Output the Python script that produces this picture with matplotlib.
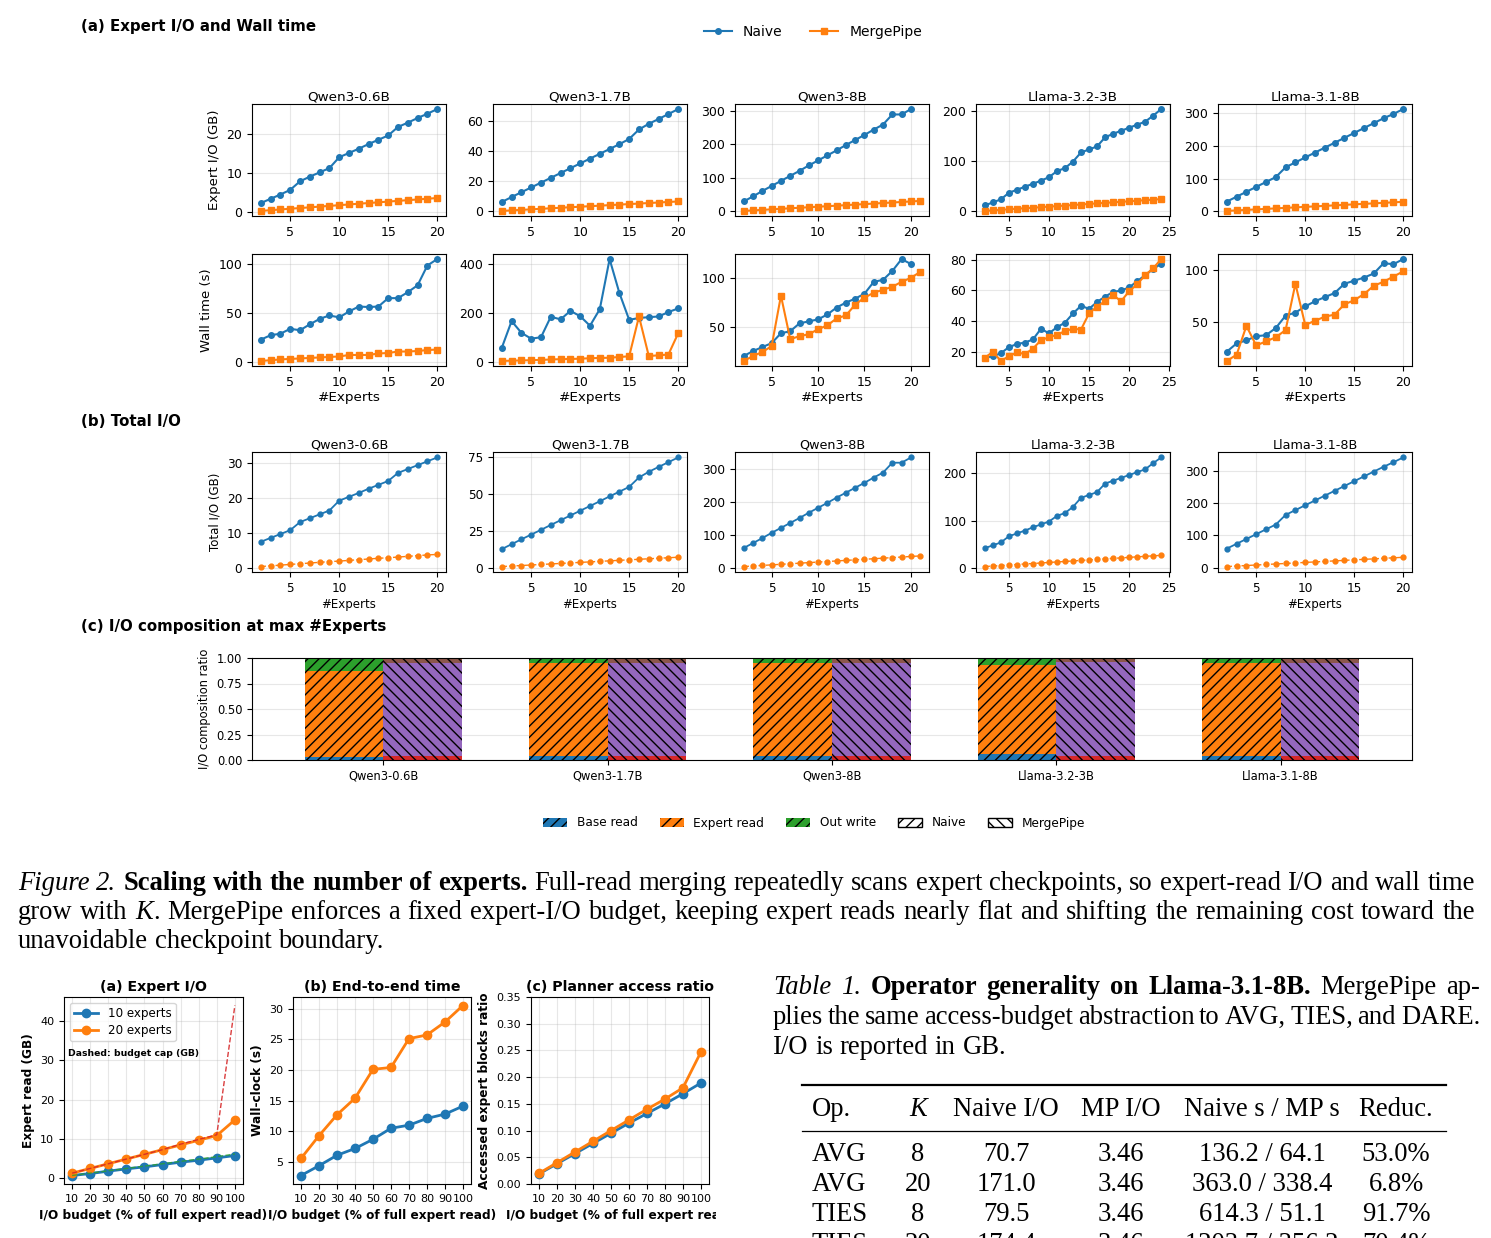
import matplotlib
matplotlib.use('Agg')
import matplotlib.pyplot as plt
import numpy as np
from matplotlib.patches import Patch, Rectangle
from matplotlib.lines import Line2D

plt.rcParams['font.family'] = 'DejaVu Sans'

# ---- data: scaling with number of experts ----
models = ['Qwen3-0.6B', 'Qwen3-1.7B', 'Qwen3-8B', 'Llama-3.2-3B', 'Llama-3.1-8B']
k_20 = list(range(2, 21))
k_21 = list(range(2, 22))
k_24 = list(range(2, 25))

# expert I/O (GB)
qwen06_naive_io = [2.2, 3.3, 4.4, 5.6, 7.8, 9.0, 10.1, 11.2, 14.0, 15.1, 16.2, 17.4, 18.5, 19.6, 21.8, 22.9, 24.1, 25.2, 26.4]
qwen06_mp_io = [0.18, 0.37, 0.55, 0.74, 0.92, 1.1, 1.29, 1.47, 1.66, 1.84, 2.03, 2.21, 2.39, 2.58, 2.76, 2.95, 3.13, 3.31, 3.5]
qwen17_naive_io = [6.3, 9.6, 12.8, 16.0, 19.2, 22.4, 25.6, 28.8, 32.0, 35.2, 38.4, 41.6, 44.8, 48.3, 54.6, 58.4, 61.6, 64.9, 68.2]
qwen17_mp_io = [0.35, 0.7, 1.05, 1.4, 1.75, 2.1, 2.45, 2.8, 3.15, 3.5, 3.85, 4.2, 4.55, 4.9, 5.25, 5.6, 5.95, 6.3, 6.65]
qwen8_naive_io = [30, 45, 61, 76, 91, 106, 121, 137, 152, 167, 182, 198, 213, 228, 244, 259, 289, 289, 305]
qwen8_mp_io = [1.6, 3.1, 4.7, 6.3, 7.8, 9.4, 11.0, 12.5, 14.1, 15.7, 17.2, 18.8, 20.4, 21.9, 23.5, 25.1, 26.6, 28.2, 29.8, 31.3]
llama3b_naive_io = [12, 18, 24, 37, 43, 49, 55, 61, 68, 80, 86, 99, 117, 123, 129, 147, 154, 160, 166, 172, 178, 190, 203]
llama3b_mp_io = [1.1, 2.1, 3.2, 4.3, 5.3, 6.4, 7.4, 8.5, 9.6, 10.6, 11.7, 12.8, 13.8, 14.9, 16.0, 17.0, 18.1, 19.1, 20.2, 21.3, 22.3, 23.4, 24.5]
llama8b_naive_io = [30, 45, 60, 75, 90, 105, 135, 150, 165, 180, 195, 210, 225, 240, 255, 270, 285, 298, 313]
llama8b_mp_io = [1.5, 3.1, 4.6, 6.2, 7.7, 9.2, 10.8, 12.3, 13.9, 15.4, 16.9, 18.5, 20.0, 21.6, 23.1, 24.6, 26.2, 27.7, 29.3]

# wall time (s)
qwen06_naive_t = [23, 27.5, 29, 34, 32.5, 38.5, 44, 47.5, 45.5, 51.5, 56.5, 56, 56.5, 65, 65, 71, 78, 98, 104.5]
qwen06_mp_t = [1.5, 2.2, 3.0, 3.5, 4.0, 4.5, 5.0, 5.5, 6.0, 7.5, 7.5, 7.5, 9.0, 9.5, 11.0, 11.0, 11.5, 12.5, 13.0]
qwen17_naive_t = [58, 167, 119, 95, 101, 185, 174, 209, 187, 148, 216, 421, 282, 172, 180, 183, 186, 204, 219]
qwen17_mp_t = [4, 5, 6, 7, 8, 10, 11, 12, 13, 15, 16, 17, 20, 23, 186, 24, 27, 30, 117]
qwen8_naive_t = [21, 26, 30, 34, 44, 46, 54, 56, 58, 63, 70, 75, 79, 84, 96, 98, 107, 119, 114]
qwen8_mp_t = [16, 21, 25, 31, 82, 38, 41, 43, 48, 52, 59, 62, 73, 80, 85, 88, 91, 96, 100, 106]
llama3b_naive_t = [16, 17, 19, 23, 25, 26, 28, 35, 32, 36, 39, 45, 50, 48, 52.5, 56, 59, 60, 62, 66, 70, 74, 77.5]
llama3b_mp_t = [16, 20, 14, 17, 19.5, 18.5, 22, 27.5, 29.5, 31, 33.5, 35, 34.5, 45, 49.5, 53, 57, 53, 59.5, 64, 70, 74.5, 80.5]
llama8b_naive_t = [21, 29, 32, 36, 37, 44, 56, 59, 65, 70, 74, 78, 87, 90, 93, 97, 107, 106, 111]
llama8b_mp_t = [12, 18, 46, 27, 31, 35, 42, 87, 47, 51, 55, 57, 67, 71, 77, 85, 89, 94, 99]

# total I/O (GB)
qwen06_naive_tot = [7.6, 8.7, 9.8, 10.9, 13.2, 14.3, 15.4, 16.5, 19.3, 20.4, 21.5, 22.7, 23.8, 24.9, 27.2, 28.3, 29.4, 30.5, 31.6]
qwen06_mp_tot = [0.55, 0.75, 0.95, 1.15, 1.35, 1.55, 1.75, 1.95, 2.1, 2.3, 2.5, 2.7, 2.9, 3.05, 3.25, 3.45, 3.65, 3.85, 4.0]
qwen17_naive_tot = [12.6, 15.9, 19.2, 22.4, 25.6, 28.9, 32.1, 35.3, 38.5, 41.7, 44.9, 48.2, 51.4, 54.6, 61.0, 64.8, 68.1, 71.3, 74.5]
qwen17_mp_tot = [0.8, 1.15, 1.5, 1.85, 2.2, 2.55, 2.9, 3.25, 3.6, 3.95, 4.3, 4.65, 5.0, 5.35, 5.7, 6.05, 6.4, 6.75, 7.1]
qwen8_naive_tot = [60, 75, 90, 106, 121, 136, 151, 167, 182, 197, 213, 228, 243, 258, 274, 289, 319, 319, 335]
qwen8_mp_tot = [3.5, 5.2, 6.9, 8.6, 10.3, 12.0, 13.7, 15.4, 17.1, 18.8, 20.5, 22.2, 23.9, 25.6, 27.3, 29.0, 30.7, 32.4, 34.1, 35.8]
llama3b_naive_tot = [42, 48, 54, 67, 73, 79, 86, 92, 98, 110, 116, 129, 148, 154, 160, 178, 184, 190, 196, 202, 208, 221, 233]
llama3b_mp_tot = [3.3, 4.4, 5.4, 6.5, 7.6, 8.7, 9.7, 10.8, 11.9, 12.9, 14.0, 15.1, 16.2, 17.2, 18.3, 19.4, 20.5, 21.5, 22.6, 23.7, 24.8, 25.8, 26.9]
llama8b_naive_tot = [59, 74, 89, 104, 119, 134, 164, 179, 194, 209, 224, 239, 254, 269, 284, 299, 314, 328, 343]
llama8b_mp_tot = [3.1, 4.7, 6.3, 7.9, 9.5, 11.1, 12.7, 14.3, 15.9, 17.5, 19.1, 20.7, 22.3, 23.9, 25.5, 27.1, 28.7, 30.3, 31.9]

# I/O composition at max #experts (ratios)
naive_base = [0.03, 0.035, 0.035, 0.055, 0.035]
naive_expert = [0.84, 0.915, 0.915, 0.875, 0.915]
naive_out = [0.13, 0.05, 0.05, 0.07, 0.05]
mp_base = [0.035, 0.035, 0.035, 0.035, 0.035]
mp_expert = [0.915, 0.915, 0.915, 0.925, 0.915]
mp_out = [0.05, 0.05, 0.05, 0.04, 0.05]

# ---- data: I/O budget sweep ----
budget = [10, 20, 30, 40, 50, 60, 70, 80, 90, 100]
read_10 = [0.6, 1.1, 1.7, 2.3, 2.8, 3.4, 4.0, 4.5, 5.1, 5.7]
read_20 = [1.2, 2.4, 3.6, 4.8, 6.0, 7.2, 8.4, 9.6, 10.8, 14.8]
cap_10 = [0.6, 1.2, 1.8, 2.4, 3.0, 3.6, 4.2, 4.8, 5.4, 6.1]
cap_20 = [1.2, 2.4, 3.6, 4.8, 6.0, 7.2, 8.6, 9.8, 11.0, 44.0]
time_10 = [2.8, 4.4, 6.1, 7.2, 8.7, 10.5, 11.0, 12.1, 12.8, 14.1]
time_20 = [5.6, 9.3, 12.7, 15.4, 20.1, 20.4, 25.1, 25.7, 27.8, 30.5]
ratio_10 = [0.019, 0.038, 0.057, 0.076, 0.095, 0.114, 0.132, 0.150, 0.169, 0.189]
ratio_20 = [0.020, 0.040, 0.060, 0.080, 0.100, 0.120, 0.140, 0.159, 0.180, 0.247]

# ---- table ----
tab_header = ['Op.', 'K', 'Naive I/O', 'MP I/O', 'Naive s / MP s', 'Reduc.']
tab_rows = [
    ['AVG', '8', '70.7', '3.46', '136.2 / 64.1', '53.0%'],
    ['AVG', '20', '171.0', '3.46', '363.0 / 338.4', '6.8%'],
    ['TIES', '8', '79.5', '3.46', '614.3 / 51.1', '91.7%'],
    ['TIES', '20', '174.4', '3.46', '1203.7 / 356.2', '70.4%'],
]

k_naive = [k_20, k_20, k_20, k_24, k_20]
k_mp = [k_20, k_20, k_21, k_24, k_20]
naive_io = [qwen06_naive_io, qwen17_naive_io, qwen8_naive_io, llama3b_naive_io, llama8b_naive_io]
mp_io = [qwen06_mp_io, qwen17_mp_io, qwen8_mp_io, llama3b_mp_io, llama8b_mp_io]
naive_t = [qwen06_naive_t, qwen17_naive_t, qwen8_naive_t, llama3b_naive_t, llama8b_naive_t]
mp_t = [qwen06_mp_t, qwen17_mp_t, qwen8_mp_t, llama3b_mp_t, llama8b_mp_t]
naive_tot = [qwen06_naive_tot, qwen17_naive_tot, qwen8_naive_tot, llama3b_naive_tot, llama8b_naive_tot]
mp_tot = [qwen06_mp_tot, qwen17_mp_tot, qwen8_mp_tot, llama3b_mp_tot, llama8b_mp_tot]

W, H = 1491, 1238
fig = plt.figure(figsize=(W / 100, H / 100), dpi=100)


def fx(x):
    return x / W


def fy(y):
    return 1 - y / H


def add_ax(l, t, r, b):
    return fig.add_axes([l / W, 1 - b / H, (r - l) / W, (b - t) / H])


col_left = [252, 493, 735, 976, 1218]
col_w = 194

# (a) expert I/O and wall time
for i, name in enumerate(models):
    l = col_left[i]
    ax = add_ax(l, 104, l + col_w, 216)
    ax.plot(k_naive[i], naive_io[i], '-o', color='C0', ms=4, lw=1.5)
    ax.plot(k_mp[i], mp_io[i], '-s', color='C1', ms=4, lw=1.5)
    ax.set_title(name, fontsize=9.7, pad=2)
    ax.grid(True, alpha=0.3)
    ax.tick_params(labelsize=9)
    if i == 0:
        ax.set_ylabel('Expert I/O (GB)', fontsize=9.5)

    ax = add_ax(l, 254, l + col_w, 366)
    ax.plot(k_naive[i], naive_t[i], '-o', color='C0', ms=4, lw=1.5)
    ax.plot(k_mp[i], mp_t[i], '-s', color='C1', ms=4, lw=1.5)
    ax.grid(True, alpha=0.3)
    ax.tick_params(labelsize=9)
    ax.set_xlabel('#Experts', fontsize=9.7, labelpad=2)
    if i == 0:
        ax.set_ylabel('Wall time (s)', fontsize=9.5)

# (b) total I/O
for i, name in enumerate(models):
    l = col_left[i]
    ax = add_ax(l, 452, l + col_w, 572)
    ax.plot(k_naive[i], naive_tot[i], '-o', color='C0', ms=3.5, lw=1.3)
    ax.plot(k_mp[i], mp_tot[i], '--o', color='C1', ms=3.5, lw=1.0)
    ax.set_title(name, fontsize=9.2, pad=2)
    ax.grid(True, alpha=0.3)
    ax.tick_params(labelsize=8.7)
    ax.set_xlabel('#Experts', fontsize=8.5, labelpad=2)
    if i == 1:
        ax.set_yticks([0, 25, 50, 75])
    if i == 0:
        ax.set_ylabel('Total I/O (GB)', fontsize=8.5)

# (c) composition
ax = add_ax(252, 658, 1412, 760)
x = np.arange(len(models))
w = 0.35
nb = np.array(naive_base)
ne = np.array(naive_expert)
mb = np.array(mp_base)
me = np.array(mp_expert)
ax.bar(x - w / 2, naive_base, w, color='C0', hatch='///', edgecolor='black', lw=0)
ax.bar(x - w / 2, naive_expert, w, bottom=nb, color='C1', hatch='///', edgecolor='black', lw=0)
ax.bar(x - w / 2, naive_out, w, bottom=nb + ne, color='C2', hatch='///', edgecolor='black', lw=0)
ax.bar(x + w / 2, mp_base, w, color='C3', hatch='\\\\\\', edgecolor='black', lw=0)
ax.bar(x + w / 2, mp_expert, w, bottom=mb, color='C4', hatch='\\\\\\', edgecolor='black', lw=0)
ax.bar(x + w / 2, mp_out, w, bottom=mb + me, color='C5', hatch='\\\\\\', edgecolor='black', lw=0)
ax.set_ylim(0, 1)
ax.set_xticks(x)
ax.set_xticklabels(models)
ax.tick_params(labelsize=8.3)
ax.set_ylabel('I/O composition ratio', fontsize=8.3)
ax.grid(True, axis='y', alpha=0.3)
ax.set_axisbelow(True)

comp_handles = [
    Patch(facecolor='C0', hatch='///', edgecolor='black', lw=0, label='Base read'),
    Patch(facecolor='C1', hatch='///', edgecolor='black', lw=0, label='Expert read'),
    Patch(facecolor='C2', hatch='///', edgecolor='black', lw=0, label='Out write'),
    Patch(facecolor='white', hatch='///', edgecolor='black', label='Naive'),
    Patch(facecolor='white', hatch='\\\\\\', edgecolor='black', label='MergePipe'),
]
fig.legend(handles=comp_handles, loc='center', bbox_to_anchor=(fx(814), fy(823)),
           ncol=5, frameon=False, fontsize=8.7, handlelength=2.0, columnspacing=1.8)

top_handles = [
    Line2D([], [], color='C0', marker='o', ms=4, lw=1.5, label='Naive'),
    Line2D([], [], color='C1', marker='s', ms=4, lw=1.5, label='MergePipe'),
]
fig.legend(handles=top_handles, loc='center', bbox_to_anchor=(fx(813), fy(32)),
           ncol=2, frameon=False, fontsize=10, columnspacing=2.0)

fig.text(fx(81), fy(27), '(a) Expert I/O and Wall time', fontsize=10.8, fontweight='bold', va='center')
fig.text(fx(81), fy(422), '(b) Total I/O', fontsize=10.8, fontweight='bold', va='center')
fig.text(fx(81), fy(627), '(c) I/O composition at max #Experts', fontsize=10.8, fontweight='bold', va='center')

# ---- budget sweep panels ----
xlab = 'I/O budget (% of full expert read)'
ax = add_ax(64, 997, 243, 1184)
ax.plot(budget, read_10, '-o', color='C0', lw=2, ms=6, label='10 experts')
ax.plot(budget, read_20, '-o', color='C1', lw=2, ms=6, label='20 experts')
ax.plot(budget, cap_10, '--', color='C2', lw=1, alpha=0.8)
ax.plot(budget, cap_20, '--', color='tab:red', lw=1, alpha=0.9)
ax.set_title('(a) Expert I/O', fontsize=10.2, fontweight='bold', pad=4)
ax.set_ylabel('Expert read (GB)', fontsize=8.7, fontweight='bold')
ax.set_xlabel(xlab, fontsize=8.7, fontweight='bold')
ax.legend(loc='upper left', fontsize=8.6, handlelength=2, labelspacing=0.3, borderpad=0.35)
ax.text(0.02, 0.685, 'Dashed: budget cap (GB)', transform=ax.transAxes, fontsize=6.7, fontweight='bold')

ax2 = add_ax(293, 997, 471, 1184)
ax2.plot(budget, time_10, '-o', color='C0', lw=2, ms=6)
ax2.plot(budget, time_20, '-o', color='C1', lw=2, ms=6)
ax2.set_title('(b) End-to-end time', fontsize=10.2, fontweight='bold', pad=4)
ax2.set_ylabel('Wall-clock (s)', fontsize=8.7, fontweight='bold')
ax2.set_xlabel(xlab, fontsize=8.7, fontweight='bold')

ax3 = add_ax(531, 997, 709, 1184)
ax3.plot(budget, ratio_10, '-o', color='C0', lw=2, ms=6)
ax3.plot(budget, ratio_20, '-o', color='C1', lw=2, ms=6)
ax3.set_ylim(0, 0.35)
ax3.set_title('(c) Planner access ratio', fontsize=10.2, fontweight='bold', pad=4)
ax3.set_ylabel('Accessed expert blocks ratio', fontsize=8.7, fontweight='bold')
ax3.set_xlabel(xlab, fontsize=8.7, fontweight='bold')

for a in (ax, ax2, ax3):
    a.set_xticks(budget)
    a.tick_params(labelsize=8)
    a.grid(True, alpha=0.3)

# clip the sweep figure at its right edge
fig.add_artist(Rectangle((fx(716), 0), fx(770) - fx(716), fy(965), transform=fig.transFigure,
                         facecolor='white', edgecolor='none', zorder=10))

# ---- serif text: captions and table ----
renderer = fig.canvas.get_renderer()
SERIF = 'Liberation Serif'
FS = 19.2


def place_line(segs, x0, yb, x1=None, size=FS):
    toks = []
    for text, kw in segs:
        for j, p in enumerate(text.split(' ')):
            if p:
                toks.append((p, kw, j > 0))
    arts, widths = [], []
    for p, kw, sp in toks:
        t = fig.text(0, fy(yb), p, fontsize=size, family=SERIF, va='baseline', **kw)
        widths.append(t.get_window_extent(renderer).width)
        arts.append(t)
    nsp = sum(1 for tk in toks[1:] if tk[2])
    gap = size * 100 / 72 * 0.25
    if x1 is not None and nsp:
        gap = (x1 - x0 - sum(widths)) / nsp
    xx = x0
    for n, ((p, kw, sp), t, wd) in enumerate(zip(toks, arts, widths)):
        if sp and n > 0:
            xx += gap
        t.set_x(fx(xx))
        xx += wd


IT = {'style': 'italic'}
BF = {'weight': 'bold'}
RM = {}

place_line([('Figure 2.', IT), (' Scaling with the number of experts.', BF),
            (' Full-read merging repeatedly scans expert checkpoints, so expert-read I/O and wall time', RM)],
           18, 890, 1475)
place_line([('grow with', RM), (' K', IT),
            ('. MergePipe enforces a fixed expert-I/O budget, keeping expert reads nearly flat and shifting the remaining cost toward the', RM)],
           18, 919, 1475)
place_line([('unavoidable checkpoint boundary.', RM)], 18, 948)

place_line([('Table 1.', IT), (' Operator generality on Llama-3.1-8B.', BF), (' MergePipe ap-', RM)], 773, 994, 1480)
place_line([('plies the same access-budget abstraction to AVG, TIES, and DARE.', RM)], 773, 1024, 1480)
place_line([('I/O is reported in GB.', RM)], 773, 1054)

col_x = [812, 918, 1006, 1121, 1262, 1396]
col_ha = ['left', 'center', 'center', 'center', 'center', 'center']
fig.add_artist(Line2D([fx(802), fx(1446)], [fy(1085), fy(1085)], color='black', lw=1.6))
fig.add_artist(Line2D([fx(802), fx(1446)], [fy(1131), fy(1131)], color='black', lw=0.9))
for j, h in enumerate(tab_header):
    fig.text(fx(col_x[j]), fy(1116), h, fontsize=FS, family=SERIF, va='baseline', ha=col_ha[j],
             style='italic' if h == 'K' else 'normal')
for r, row in enumerate(tab_rows):
    for j, v in enumerate(row):
        fig.text(fx(col_x[j]), fy(1161 + 30 * r), v, fontsize=FS, family=SERIF, va='baseline', ha=col_ha[j])

fig.savefig('out.png', dpi=100)
